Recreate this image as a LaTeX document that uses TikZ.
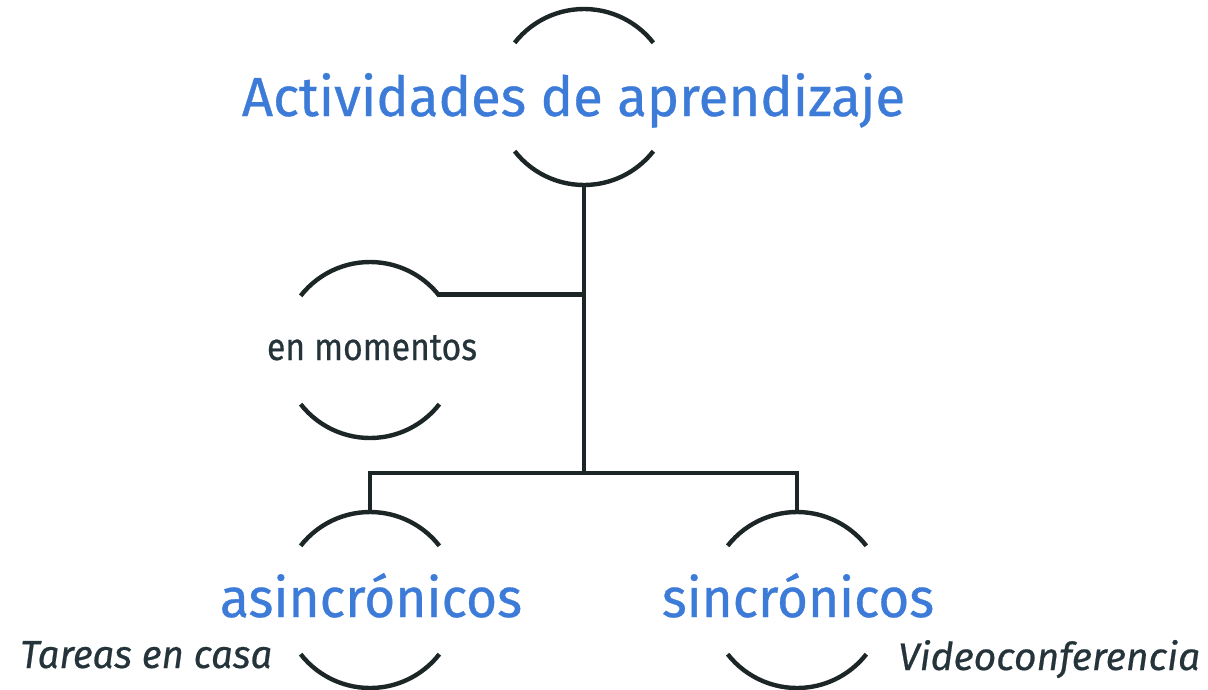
\documentclass[tikz,border=0pt]{standalone}
\usepackage{fontspec}
\setmainfont{Fira Sans}
\newfontfamily\heavyfont[FakeBold=0.6]{Fira Sans}
\newfontfamily\heavyital[FakeBold=0.5]{Fira Sans Italic}
\usetikzlibrary{calc}
\definecolor{titleblue}{HTML}{3D7BD8}
\definecolor{darktext}{HTML}{25343B}
\definecolor{linecol}{HTML}{1C2626}
\newcommand{\fitwh}[3]{\resizebox{#1}{#2}{#3}}
\begin{document}
\begin{tikzpicture}[x=1pt,y=-1pt,
  conn/.style={draw=linecol,line width=4.4pt},
  halfarc/.style={draw=linecol,line width=4.4pt},
  lbl/.style={inner sep=0pt,anchor=base}]
\useasboundingbox (0,0) rectangle (1208,689);
% circle centres
\coordinate (c1) at (584,97);
\coordinate (c2) at (370,350);
\coordinate (c3) at (370,600);
\coordinate (c4) at (797,600);
% open circles (top and bottom arcs)
\foreach \c in {c1,c2,c3,c4}{
  \draw[halfarc] ([shift={(142:88pt)}]\c) arc (142:38:88pt);
  \draw[halfarc] ([shift={(218:88pt)}]\c) arc (218:322:88pt);
}
% texts
\node[lbl,text=titleblue] (title) at (573.5,116) {\fitwh{663pt}{43pt}{\heavyfont Actividades de aprendizaje}};
\node[lbl,text=darktext] (mom) at (372,360) {\fitwh{210pt}{25pt}{\heavyfont en momentos}};
\node[lbl,text=titleblue] (asin) at (371,617) {\fitwh{302pt}{44pt}{\heavyfont asincrónicos}};
\node[lbl,text=titleblue] (sinc) at (798,617) {\fitwh{272pt}{44pt}{\heavyfont sincrónicos}};
\node[lbl,text=darktext,anchor=base west] (tareas) at (20,668) {\fitwh{252pt}{27pt}{\heavyital Tareas en casa}};
\node[lbl,text=darktext,anchor=base west] (video) at (898,670) {\fitwh{302pt}{30pt}{\heavyital Videoconferencia}};
% connector points
\coordinate (c1b) at ($(c1)+(0,88)$);
\coordinate (c2r) at ($(c2)+(39:88pt)$);
\coordinate (j1) at (c1b |- c2r);
\coordinate (j2) at (584,473);
\coordinate (c3t) at ($(c3)+(0,-88)$);
\coordinate (c4t) at ($(c4)+(0,-88)$);
\draw[conn] (c1b) -- (j2);
\draw[conn] (c2r) -- (j1);
\draw[conn] (c3t) |- (j2) -| (c4t);
\end{tikzpicture}
\end{document}
